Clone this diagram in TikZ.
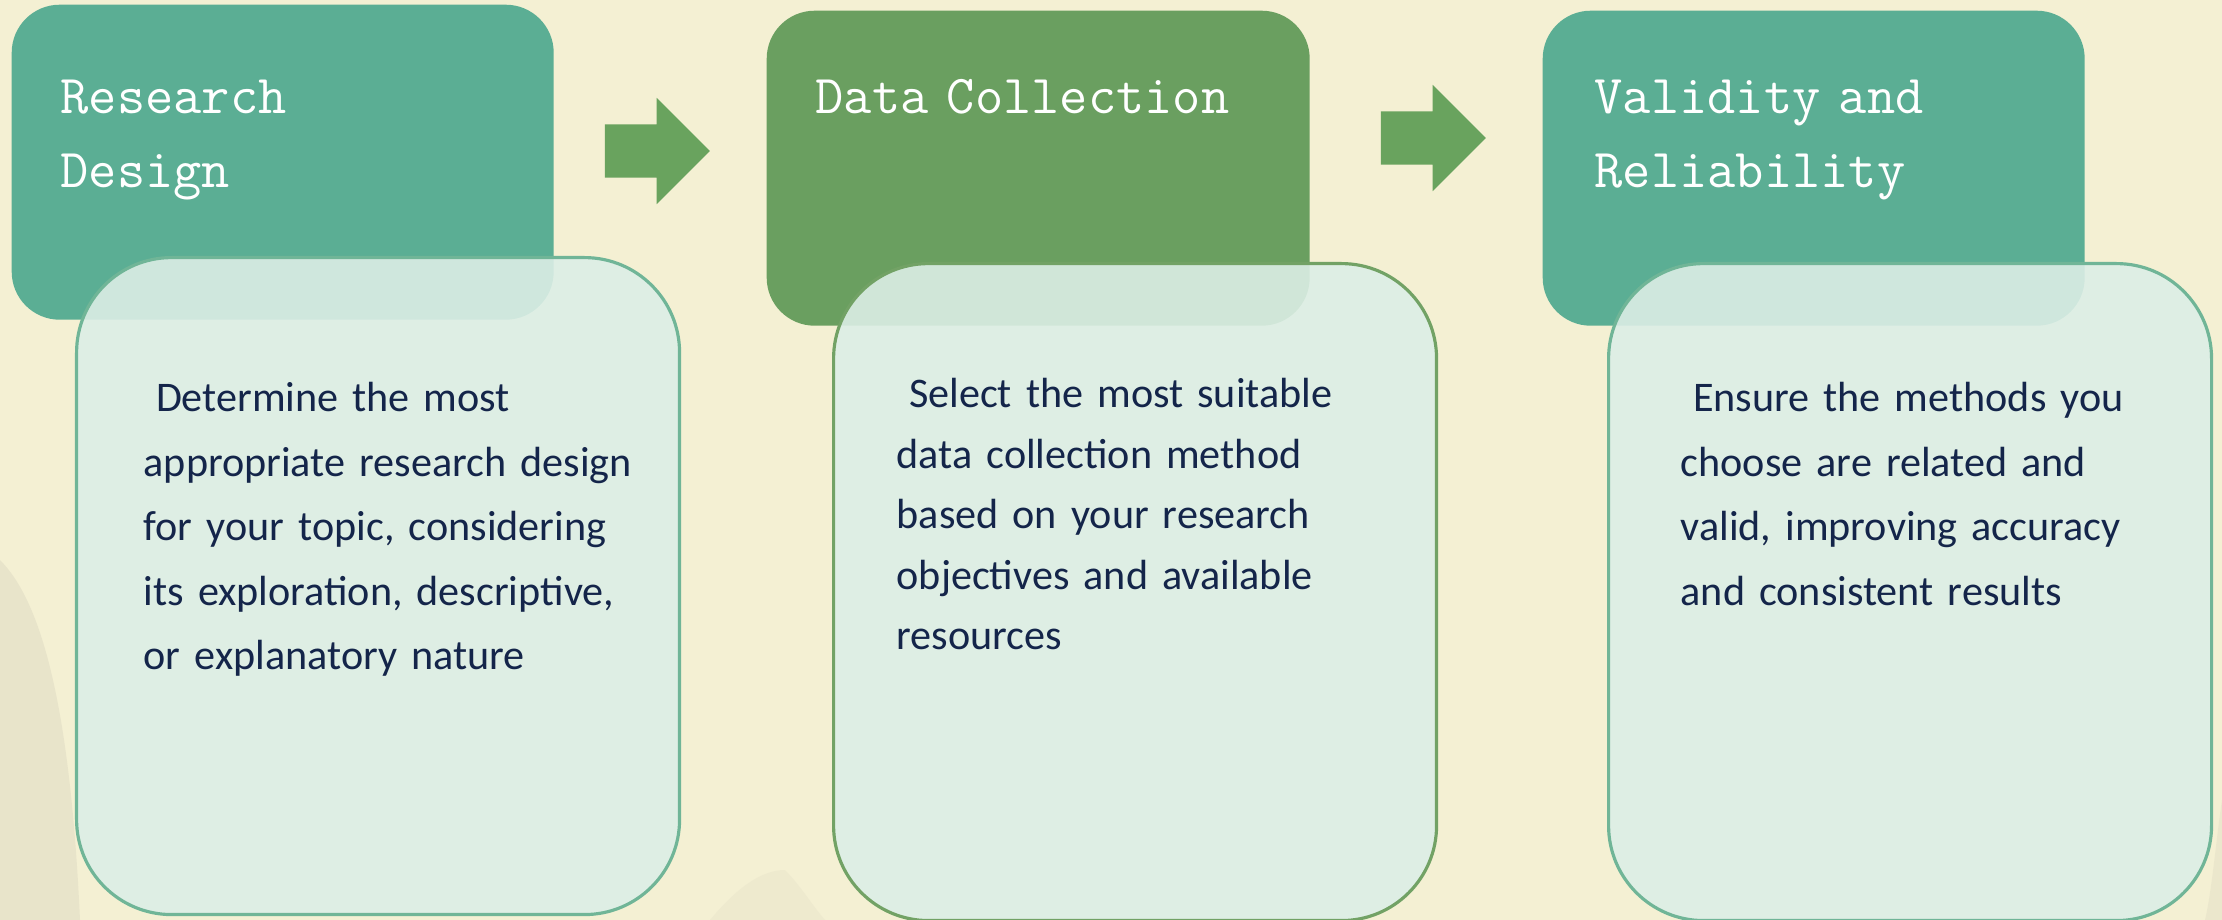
\documentclass[tikz,border=0pt]{standalone}
\usepackage{fontspec}
\setmainfont{Carlito}
\usetikzlibrary{positioning, shapes.arrows}

\definecolor{paper}{HTML}{F4F0D3}
\definecolor{hill}{HTML}{E4DFC7}
\definecolor{headteal}{HTML}{5BAE94}
\definecolor{headgreen}{HTML}{6A9F60}
\definecolor{arrowgreen}{HTML}{69A35E}
\definecolor{cardfill}{HTML}{DCEEE6}
\definecolor{cardteal}{HTML}{70B597}
\definecolor{cardgreen}{HTML}{72A265}
\definecolor{ink}{HTML}{14254A}

\tikzset{
  header/.style={rectangle, rounded corners=4.8mm, minimum width=54.2mm,
    minimum height=31.5mm, inner sep=0pt, anchor=north west},
  card/.style={rectangle, rounded corners=9.5mm, line width=0.9pt, fill=cardfill,
    fill opacity=0.9, minimum width=60.3mm, minimum height=65.7mm, inner sep=0pt},
  headtext/.style={text=white, font=\ttfamily\fontsize{15.6}{21}\selectfont,
    text width=48mm, align=left, inner sep=0pt},
  bodytext/.style={text=ink, font=\fontsize{12}{18.35}\selectfont,
    text width=52mm, align=left, inner sep=0pt},
  blockarrow/.style={single arrow, fill=arrowgreen, inner xsep=2.7mm, inner ysep=2.6mm,
    minimum height=10.5mm, minimum width=10.6mm, single arrow head extend=2.65mm,
    single arrow tip angle=90, single arrow head indent=0pt}
}

\begin{document}
\begin{tikzpicture}[x=0.1mm, y=-0.1mm]
  \fill[paper] (0,0) rectangle (2222,920);
  \useasboundingbox (0,0) rectangle (2222,920);
  % faint hills in the background
  \fill[hill, opacity=.7] (0,560) .. controls (40,600) and (70,700) .. (80,920) -- (0,920) -- cycle;
  \fill[hill, opacity=.35] (710,920) .. controls (735,890) and (760,870) .. (785,870)
    .. controls (800,885) and (812,905) .. (825,920) -- cycle;
  \fill[hill, opacity=.5] (2222,800) .. controls (2216,840) and (2212,890) .. (2205,920) -- (2222,920) -- cycle;

  % header boxes
  \node[header, fill=headteal] (head1) at (11,4) {};
  \node[header, fill=headgreen, minimum width=54.3mm] (head2) at (766,10) {};
  \node[header, fill=headteal] (head3) at (1542,10) {};

  % cards in front
  \node[card, draw=cardteal, below right=25.2mm and 6.4mm of head1.north west] (card1) {};
  \node[card, draw=cardgreen, below right=25.2mm and 6.6mm of head2.north west] (card2) {};
  \node[card, draw=cardteal, below right=25.2mm and 6.5mm of head3.north west] (card3) {};

  \node[blockarrow] (arr1) at (644,151) {};
  \node[blockarrow] (arr2) at (1420,138) {};

  % titles
  \node[headtext, below right=11mm and 4.9mm of head1.north west, anchor=base west] (ttl1)
    {Research\\Design};
  \node[headtext, below right=10.4mm and 4.9mm of head2.north west, anchor=base west] (ttl2)
    {Data Collection};
  \node[headtext, below right=10.4mm and 5.2mm of head3.north west, anchor=base west] (ttl3)
    {Validity and\\Reliability};

  % descriptions
  \node[bodytext, below right=15.6mm and 6.8mm of card1.north west, anchor=base west] (txt1)
    {\hspace*{3.5pt}Determine the most\\appropriate research design\\for your topic, considering\\its exploration, descriptive,\\or explanatory nature};
  \node[bodytext, font=\fontsize{12}{17.2}\selectfont,
    below right=14.6mm and 6.4mm of card2.north west, anchor=base west] (txt2)
    {\hspace*{3.5pt}Select the most suitable\\data collection method\\based on your research\\objectives and available\\resources};
  \node[bodytext, below right=15mm and 7.3mm of card3.north west, anchor=base west] (txt3)
    {\hspace*{3.5pt}Ensure the methods you\\choose are related and\\valid, improving accuracy\\and consistent results};
\end{tikzpicture}
\end{document}
